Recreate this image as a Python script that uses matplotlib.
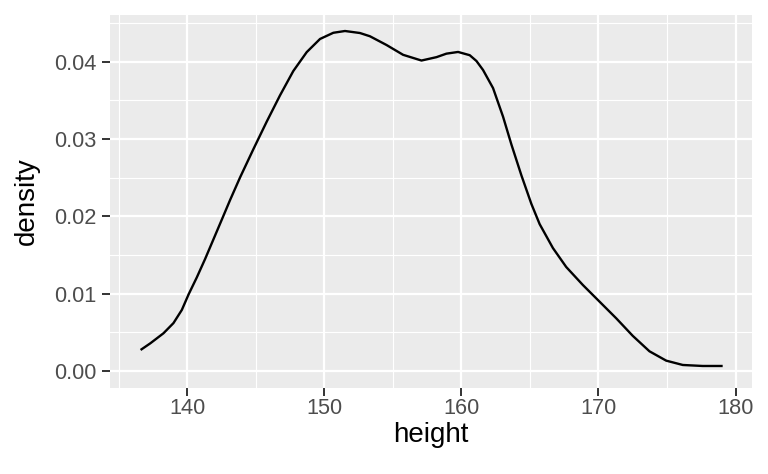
import matplotlib
matplotlib.use("Agg")
import matplotlib.pyplot as plt
from matplotlib.ticker import MultipleLocator

height = [136.60, 137.31, 138.27, 139.0, 139.61, 140.1, 140.7, 141.31, 141.92, 142.53,
          143.13, 143.86, 144.83, 145.8, 146.77, 147.74, 148.72, 149.69, 150.66, 151.51,
          152.6, 153.33, 154.54, 155.75, 157.09, 158.19, 158.91, 159.76, 160.61, 161.1,
          161.58, 162.31, 163.04, 163.65, 164.38, 165.11, 165.71, 166.68, 167.65, 168.86,
          170.08, 171.3, 172.5, 173.72, 174.94, 176.15, 177.6, 179.06]
density = [0.00272, 0.00358, 0.00488, 0.00620, 0.00790, 0.00990, 0.01210, 0.01450, 0.01705, 0.01960,
           0.02212, 0.02505, 0.02870, 0.03225, 0.03565, 0.03880, 0.04125, 0.04295, 0.04375, 0.04398,
           0.04372, 0.04330, 0.04217, 0.04090, 0.04016, 0.04060, 0.04105, 0.04127, 0.04085, 0.04010,
           0.03894, 0.03660, 0.03290, 0.02930, 0.02530, 0.02160, 0.01900, 0.01590, 0.01345, 0.01113,
           0.00897, 0.00681, 0.00455, 0.00255, 0.00134, 0.00078, 0.00065, 0.00065]
x_ticks = [140, 150, 160, 170, 180]
y_ticks = [0.00, 0.01, 0.02, 0.03, 0.04]

plt.rcParams['font.family'] = ['Liberation Sans', 'DejaVu Sans']

W, H = 768, 474
fig = plt.figure(figsize=(W / 100, H / 100), dpi=100)
ax = fig.add_axes([110 / W, 1 - 387.7 / H, (752 - 110) / W, (387.7 - 15) / H])
ax.set_facecolor('#EBEBEB')
ax.plot(height, density, color='black', lw=1.7, solid_capstyle='butt',
        solid_joinstyle='round', zorder=3)

ax.set_xlim(134.37, 181.2)
ax.set_ylim(-0.00216, 0.04605)
ax.set_xticks(x_ticks)
ax.set_yticks(y_ticks)
ax.set_xticklabels([str(v) for v in x_ticks])
ax.set_yticklabels([f"{v:.2f}" for v in y_ticks])
ax.xaxis.set_minor_locator(MultipleLocator(5))
ax.yaxis.set_minor_locator(MultipleLocator(0.005))
ax.grid(which='major', color='white', lw=1.6)
ax.grid(which='minor', color='white', lw=0.8)
ax.set_axisbelow(True)
for s in ax.spines.values():
    s.set_visible(False)
ax.tick_params(which='major', length=5.5, width=1.4, color='#333333', labelcolor='#4D4D4D',
               labelsize=15.7)
ax.tick_params(axis='x', which='major', pad=2)
ax.tick_params(axis='y', which='major', pad=4.5)
ax.tick_params(which='minor', length=0)
ax.set_xlabel('height', fontsize=20, color='black', labelpad=2)
ax.set_ylabel('density', fontsize=20, color='black', labelpad=10)

fig.savefig('out.png', dpi=100, facecolor='white')
